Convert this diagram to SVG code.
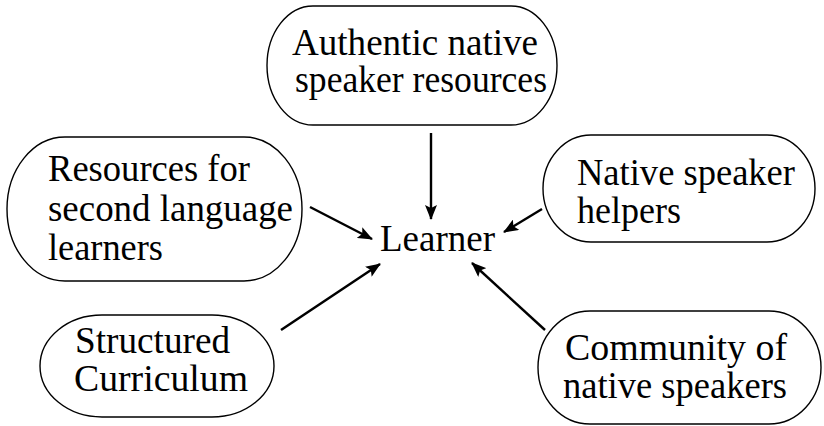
<svg xmlns="http://www.w3.org/2000/svg" width="824" height="426" viewBox="0 0 824 426">
  <style>
    .box { fill: #ffffff; stroke: #000000; stroke-width: 1.4; }
    .lbl { font-family: "Liberation Serif", "DejaVu Serif", serif; font-size: 37px; fill: #000000; }
    .edge { stroke: #000000; stroke-width: 2.4; fill: none; marker-end: url(#head); }
  </style>
  <defs>
    <marker id="head" markerUnits="userSpaceOnUse" markerWidth="16" markerHeight="12" refX="14" refY="6" orient="auto">
      <path d="M0,0 L15,6 L0,12 L3,6 z" fill="#000000"/>
    </marker>
  </defs>

  <rect width="824" height="426" fill="#ffffff"/>

  <!-- sources around the central learner -->
  <g id="authentic">
    <rect class="box" x="267" y="6" width="290" height="119" rx="46" ry="59.5"/>
    <text class="lbl" x="292" y="55" textLength="246" lengthAdjust="spacingAndGlyphs">Authentic native</text>
    <text class="lbl" x="295" y="92" textLength="252" lengthAdjust="spacingAndGlyphs">speaker resources</text>
  </g>

  <g id="second-language">
    <rect class="box" x="7" y="137" width="295" height="144" rx="58" ry="72"/>
    <text class="lbl" x="48" y="181" textLength="202" lengthAdjust="spacingAndGlyphs">Resources for</text>
    <text class="lbl" x="48" y="221" textLength="245" lengthAdjust="spacingAndGlyphs">second language</text>
    <text class="lbl" x="48" y="260" textLength="115" lengthAdjust="spacingAndGlyphs">learners</text>
  </g>

  <g id="helpers">
    <rect class="box" x="543" y="135" width="272" height="107" rx="48" ry="53.5"/>
    <text class="lbl" x="577" y="185" textLength="218" lengthAdjust="spacingAndGlyphs">Native speaker</text>
    <text class="lbl" x="577" y="223" textLength="104" lengthAdjust="spacingAndGlyphs">helpers</text>
  </g>

  <g id="curriculum">
    <rect class="box" x="40" y="315" width="234" height="102" rx="62" ry="51"/>
    <text class="lbl" x="75" y="353" textLength="155" lengthAdjust="spacingAndGlyphs">Structured</text>
    <text class="lbl" x="74" y="391" textLength="174" lengthAdjust="spacingAndGlyphs">Curriculum</text>
  </g>

  <g id="community">
    <rect class="box" x="538" y="311" width="283" height="113" rx="52" ry="56.5"/>
    <text class="lbl" x="565" y="360" textLength="222" lengthAdjust="spacingAndGlyphs">Community of</text>
    <text class="lbl" x="563" y="398" textLength="224" lengthAdjust="spacingAndGlyphs">native speakers</text>
  </g>

  <g id="learner">
    <text class="lbl" x="380" y="251" textLength="115" lengthAdjust="spacingAndGlyphs">Learner</text>
  </g>

  <!-- arrows pointing into the learner -->
  <g id="connectors">
    <line class="edge" x1="431" y1="133" x2="431" y2="219"/>
    <line class="edge" x1="310" y1="207" x2="372" y2="239"/>
    <line class="edge" x1="542" y1="209" x2="504" y2="232"/>
    <line class="edge" x1="281" y1="330" x2="380" y2="264"/>
    <line class="edge" x1="545" y1="330" x2="472" y2="263"/>
  </g>
</svg>
